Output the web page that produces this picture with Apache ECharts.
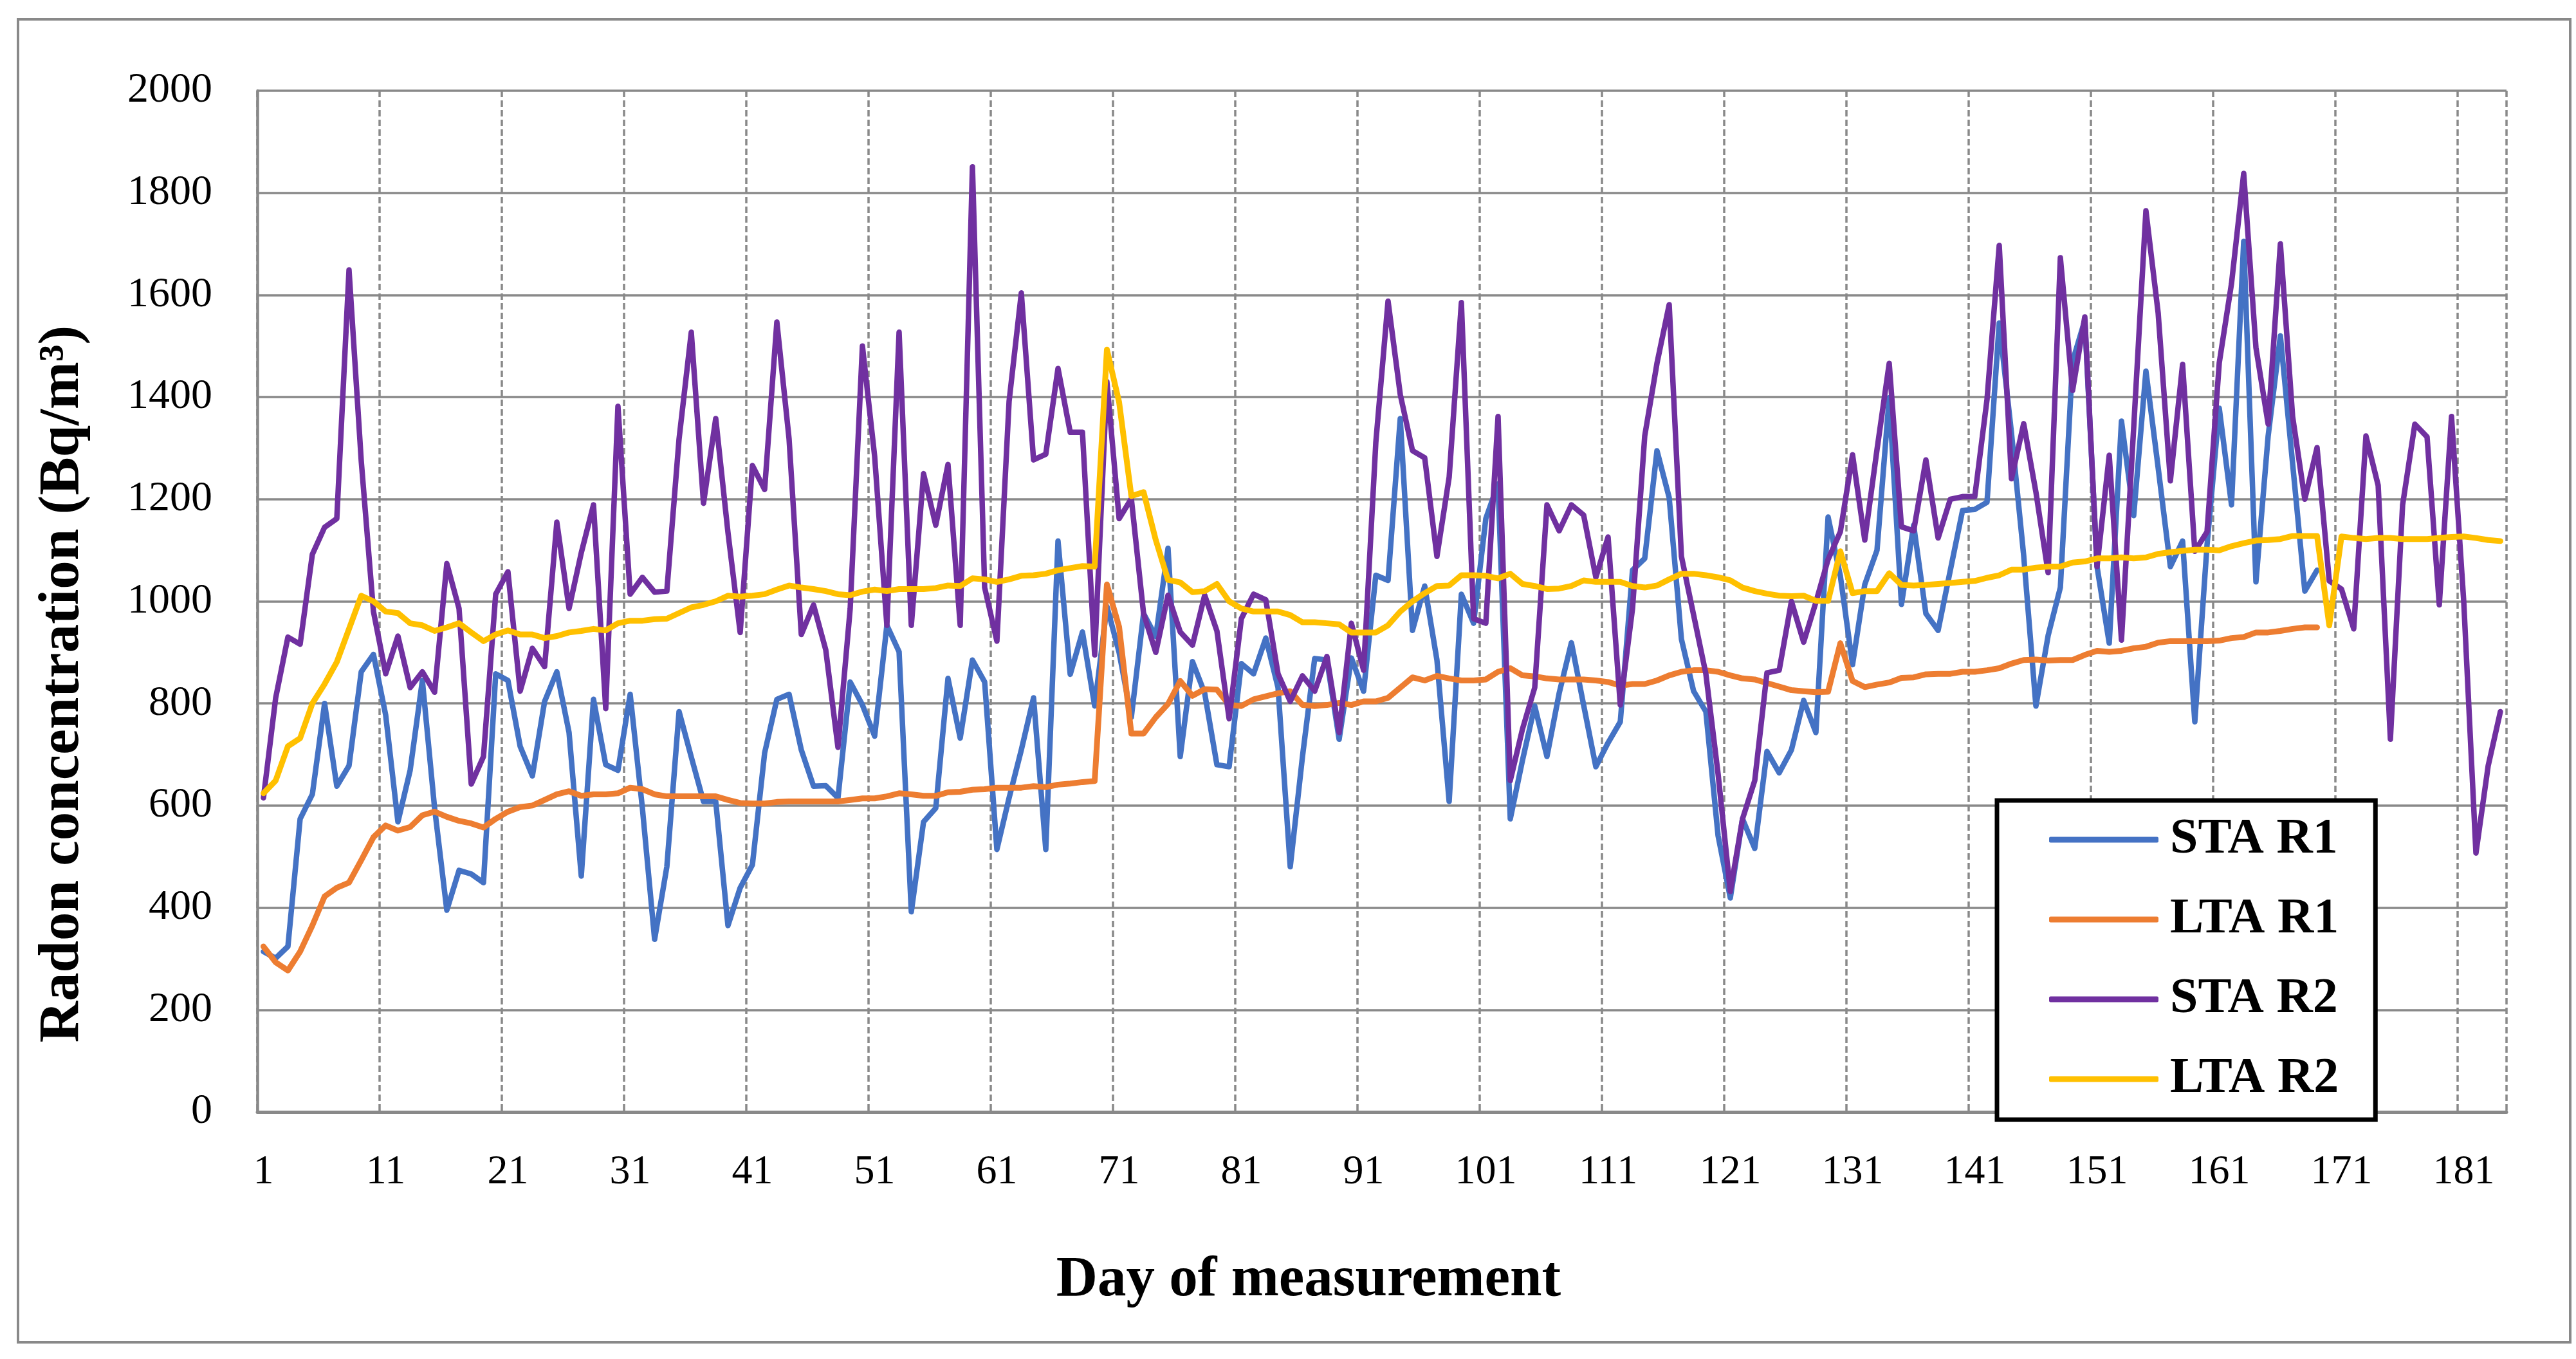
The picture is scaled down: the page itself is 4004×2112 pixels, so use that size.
<!DOCTYPE html>
<html>
<head>
<meta charset="utf-8">
<script src="https://cdn.jsdelivr.net/npm/echarts@6/dist/echarts.min.js"></script>
<style>
  html, body { margin: 0; padding: 0; background: #ffffff; }
  #chart { width: 4004px; height: 2112px; }
</style>
</head>
<body>
<div id="chart"></div>
<script>
// Day of measurement (1..184)
const days = [];
for (let d = 1; d <= 184; d++) days.push(String(d));

const yTicks = [0, 200, 400, 600, 800, 1000, 1200, 1400, 1600, 1800, 2000];

// STA R1 (days 1..169)
const staR1 = [
  314, 301, 324, 574, 622, 800, 638, 678, 862, 896,
  777, 568, 669, 845, 595, 395, 473, 466, 449, 858,
  845, 716, 658, 804, 862, 743, 462, 808, 680, 669,
  818, 595, 338, 480, 784, 695, 608, 608, 365, 439,
  484, 703, 808, 818, 709, 638, 639, 615, 842, 797,
  736, 953, 901, 392, 568, 595, 849, 732, 885, 842,
  514, 615, 709, 811, 514, 1118, 857, 940, 795, 990,
  900, 773, 976, 931, 1104, 696, 882, 820, 680, 676,
  878, 858, 928, 831, 480, 696, 888, 885, 730, 889,
  824, 1051, 1041, 1358, 943, 1030, 885, 608, 1014, 957,
  1162, 1230, 574, 689, 795, 696, 820, 919, 797, 676,
  723, 764, 1061, 1084, 1295, 1203, 926, 824, 784, 541,
  419, 574, 516, 706, 664, 709, 806, 743, 1165, 1050,
  876, 1033, 1100, 1399, 994, 1149, 976, 943, 1061, 1178,
  1180, 1194, 1545, 1330, 1090, 795, 933, 1027, 1470, 1550,
  1068, 918, 1353, 1168, 1451, 1262, 1068, 1118, 764, 1110,
  1378, 1189, 1705, 1038, 1324, 1520, 1270, 1020, 1061
];

// LTA R1 (days 1..169)
const ltaR1 = [
  324, 293, 277, 314, 365, 422, 439, 449, 493, 538,
  561, 551, 558, 581, 588, 578, 570, 565, 557, 574,
  588, 597, 600, 611, 622, 628, 619, 622, 622, 624,
  635, 632, 622, 618, 618, 618, 618, 618, 611, 605,
  604, 604, 607, 608, 608, 608, 608, 608, 611, 614,
  614, 618, 624, 622, 619, 619, 626, 627, 631, 632,
  635, 635, 635, 638, 636, 641, 643, 646, 648, 1033,
  950, 741, 741, 773, 799, 844, 815, 828, 827, 797,
  795, 808, 814, 820, 824, 797, 795, 797, 801, 797,
  804, 804, 811, 831, 851, 845, 854, 849, 845, 845,
  847, 862, 869, 855, 853, 849, 847, 847, 847, 845,
  842, 835, 838, 838, 845, 855, 862, 865, 865, 862,
  855, 849, 847, 840, 833, 826, 824, 822, 823, 918,
  844, 832, 837, 841, 850, 851, 857, 858, 858, 862,
  862, 865, 869, 878, 885, 886, 884, 885, 885, 895,
  903, 901, 903, 908, 911, 919, 922, 922, 922, 922,
  923, 928, 930, 939, 939, 942, 946, 949, 949
];

// STA R2 (days 1..184)
const staR2 = [
  615, 811, 930, 916, 1092, 1145, 1162, 1649, 1275, 980,
  858, 932, 831, 862, 822, 1074, 986, 642, 696, 1014,
  1058, 824, 908, 872, 1155, 986, 1095, 1189, 790, 1382,
  1014, 1047, 1018, 1020, 1318, 1527, 1192, 1358, 1135, 939,
  1266, 1219, 1547, 1318, 935, 993, 905, 714, 986, 1500,
  1284, 953, 1527, 953, 1250, 1149, 1268, 953, 1851, 1027,
  922, 1392, 1604, 1277, 1288, 1456, 1331, 1331, 895, 1430,
  1162, 1201, 976, 900, 1012, 940, 914, 1012, 942, 770,
  966, 1014, 1003, 858, 804, 854, 824, 892, 743, 957,
  865, 1311, 1588, 1405, 1295, 1281, 1088, 1243, 1585, 966,
  957, 1362, 649, 750, 831, 1189, 1138, 1189, 1169, 1047,
  1126, 797, 986, 1324, 1466, 1581, 1088, 973, 858, 662,
  432, 574, 649, 860, 865, 1000, 920, 998, 1082, 1136,
  1287, 1120, 1297, 1466, 1146, 1138, 1277, 1124, 1200, 1205,
  1205, 1395, 1697, 1240, 1348, 1214, 1056, 1673, 1413, 1557,
  1068, 1286, 924, 1340, 1765, 1565, 1236, 1464, 1098, 1136,
  1467, 1622, 1838, 1497, 1347, 1700, 1362, 1200, 1301, 1040,
  1024, 946, 1324, 1227, 730, 1189, 1347, 1322, 993, 1362,
  1000, 507, 678, 784
];

// LTA R2 (days 1..184)
const ltaR2 = [
  624, 649, 716, 732, 800, 838, 881, 946, 1011, 1000,
  980, 977, 957, 953, 942, 949, 957, 939, 922, 935,
  943, 935, 935, 928, 932, 939, 942, 946, 943, 957,
  962, 962, 965, 966, 977, 988, 993, 1000, 1011, 1009,
  1011, 1014, 1023, 1031, 1027, 1024, 1020, 1014, 1012, 1019,
  1023, 1020, 1024, 1024, 1024, 1026, 1031, 1030, 1045, 1043,
  1038, 1043, 1050, 1051, 1054, 1061, 1065, 1069, 1068, 1493,
  1390, 1206, 1214, 1120, 1042, 1037, 1018, 1020, 1034, 1000,
  986, 980, 980, 980, 973, 959, 959, 957, 955, 939,
  939, 939, 953, 980, 1000, 1016, 1030, 1031, 1051, 1051,
  1050, 1045, 1054, 1034, 1030, 1024, 1025, 1030, 1041, 1038,
  1038, 1038, 1030, 1027, 1031, 1043, 1054, 1054, 1051, 1047,
  1041, 1027, 1020, 1015, 1011, 1010, 1011, 1001, 1001, 1098,
  1016, 1020, 1020, 1055, 1032, 1031, 1032, 1034, 1036, 1038,
  1040, 1046, 1051, 1062, 1062, 1066, 1068, 1068, 1076, 1078,
  1084, 1084, 1086, 1084, 1086, 1093, 1096, 1099, 1101, 1101,
  1100, 1108, 1114, 1119, 1120, 1122, 1128, 1128, 1128, 953,
  1127, 1124, 1122, 1124, 1124, 1122, 1122, 1122, 1124, 1126,
  1127, 1124, 1120, 1118
];

const seriesNames = ['STA R1', 'LTA R1', 'STA R2', 'LTA R2'];
const seriesColors = ['#4472C4', '#ED7D31', '#7030A0', '#FFC000'];

const FONT = '"Liberation Serif", "DejaVu Serif", serif';
const GRID_COLOR = '#898989';

const chart = echarts.init(document.getElementById('chart'), null, { renderer: 'canvas', width: 4004, height: 2112 });

function mkSeries(name, data, color, width) {
  return {
    name: name,
    type: 'line',
    data: data,
    symbol: 'none',
    showSymbol: false,
    smooth: false,
    animation: false,
    connectNulls: false,
    lineStyle: { color: color, width: width, cap: 'round', join: 'round' },
    itemStyle: { color: color },
    emphasis: { disabled: true }
  };
}

const option = {
  backgroundColor: '#ffffff',
  animation: false,
  grid: { left: 400, top: 141, right: 108, bottom: 384, containLabel: false },
  xAxis: {
    type: 'category',
    data: days,
    boundaryGap: true,
    axisLine: { show: true, lineStyle: { color: GRID_COLOR, width: 5 } },
    axisTick: { show: false },
    axisLabel: {
      interval: 9,
      margin: 62,
      fontFamily: FONT,
      fontSize: 64,
      color: '#000000'
    },
    splitLine: {
      show: true,
      interval: 9,
      lineStyle: { color: GRID_COLOR, width: 3.5, type: [10, 5] }
    }
  },
  yAxis: {
    type: 'value',
    min: yTicks[0],
    max: yTicks[yTicks.length - 1],
    interval: 200,
    axisLine: { show: true, lineStyle: { color: GRID_COLOR, width: 4.5 } },
    axisTick: { show: false },
    axisLabel: {
      margin: 70,
      fontFamily: FONT,
      fontSize: 66,
      color: '#000000',
      formatter: function (v) { return String(v); }
    },
    splitLine: { show: true, lineStyle: { color: GRID_COLOR, width: 3.5, type: 'solid' } }
  },
  legend: {
    orient: 'vertical',
    left: 3104,
    top: 1244,
    data: seriesNames.map(function (n) { return { name: n, icon: 'roundRect' }; }),
    itemWidth: 170,
    itemHeight: 9,
    itemGap: 44,
    padding: [21, 57, 23, 81],
    backgroundColor: '#ffffff',
    borderColor: '#000000',
    borderWidth: 7,
    borderRadius: 0,
    selectedMode: false,
    textStyle: {
      fontFamily: FONT,
      fontSize: 78,
      fontWeight: 'bold',
      color: '#000000',
      lineHeight: 80,
      padding: [0, 0, 0, 13]
    }
  },
  graphic: [
    {
      type: 'rect',
      silent: true,
      z: -1,
      shape: { x: 28, y: 30, width: 3967, height: 2056 },
      style: { fill: 'none', stroke: GRID_COLOR, lineWidth: 4 }
    },
    {
      type: 'text',
      silent: true,
      x: 98,
      y: 1063,
      rotation: Math.PI / 2,
      style: {
        text: 'Radon concentration (Bq/m³)',
        fontFamily: FONT,
        fontSize: 89,
        fontWeight: 'bold',
        fill: '#000000',
        align: 'center',
        verticalAlign: 'middle'
      }
    },
    {
      type: 'text',
      silent: true,
      x: 2034,
      y: 1990,
      style: {
        text: 'Day of measurement',
        fontFamily: FONT,
        fontSize: 89,
        fontWeight: 'bold',
        fill: '#000000',
        align: 'center',
        verticalAlign: 'middle'
      }
    }
  ],
  series: [
    mkSeries(seriesNames[0], staR1, seriesColors[0], 8.5),
    mkSeries(seriesNames[1], ltaR1, seriesColors[1], 9),
    mkSeries(seriesNames[2], staR2, seriesColors[2], 8.5),
    mkSeries(seriesNames[3], ltaR2, seriesColors[3], 9)
  ]
};

chart.setOption(option);
</script>
</body>
</html>
